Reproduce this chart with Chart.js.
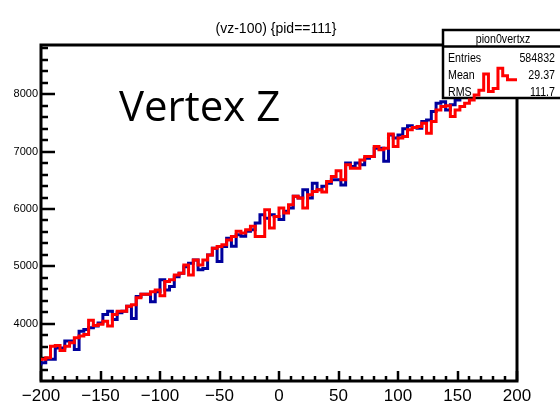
<!DOCTYPE html>
<html>
<head>
<meta charset="utf-8">
<script src="https://cdn.jsdelivr.net/npm/chart.js@4.4.0/dist/chart.umd.min.js"></script>
<style>
  html, body { margin: 0; padding: 0; background: #fff; }
  #c { display: block; }
</style>
</head>
<body>
<canvas id="c" width="560" height="418"></canvas>
<script>
// Histogram definition: 100 bins over vz-100 in [-200, 200]
const xMin = -200;
const xMax = 200;
const nBins = 100;

// Bin contents, pion0vertxz (blue)
const pion0vertxz = [
  3275, 3320, 3380, 3380, 3580, 3580, 3700, 3700, 3550, 3870,
  3900, 3930, 3960, 4015, 4160, 4220, 4075, 4190, 4220, 4305,
  4090, 4475, 4515, 4515, 4385, 4560, 4765, 4590, 4650, 4820,
  4880, 4995, 5055, 5110, 4940, 4965, 5200, 5315, 5085, 5345,
  5490, 5350, 5550, 5525, 5610, 5640, 5755, 5900, 5840, 5900,
  5870, 5815, 5960, 6015, 6220, 6190, 6335, 6190, 6450, 6335,
  6395, 6450, 6510, 6510, 6420, 6800, 6740, 6800, 6770, 6885,
  6915, 7060, 7060, 6830, 7290, 7235, 7290, 7400, 7450, 7420,
  7405, 7525, 7550, 7700, 7840, 7870, 7725, 7815, 7900, 7990,
  8060, 8110, 8150, 8230, 8300, 8250, 8400, 8550, 8420, 8380
];

// Bin contents, overlaid selection (red)
const pion0vertxzSame = [
  3350, 3380, 3410, 3610, 3620, 3535, 3610, 3670, 3755, 3785,
  3815, 4060, 3970, 3990, 4045, 3960, 4160, 4220, 4220, 4305,
  4330, 4455, 4515, 4515, 4560, 4590, 4490, 4735, 4765, 4850,
  4880, 5025, 4850, 5110, 5025, 5110, 5200, 5315, 5345, 5375,
  5460, 5520, 5610, 5580, 5640, 5700, 5520, 5520, 5985, 5670,
  5870, 6015, 5930, 6075, 6220, 6190, 6015, 6250, 6305, 6335,
  6295, 6480, 6565, 6665, 6510, 6770, 6710, 6710, 6855, 6915,
  6915, 7090, 7030, 7060, 7305, 7090, 7235, 7265, 7380, 7420,
  7435, 7495, 7320, 7525, 7725, 7785, 7800, 7610, 7725, 7785,
  7840, 7900, 7985, 8070, 8350, 8045, 8100, 8450, 8320, 8250
];

// Axis labels
const xTicks = [-200, -150, -100, -50, 0, 50, 100, 150, 200];
const yTicks = [4000, 5000, 6000, 7000, 8000];
const yRange = [3003, 8857];

// Title and statistics box
const titleText = '(vz-100) {pid==111}';
const statName = 'pion0vertxz';
const statLabels = ['Entries', 'Mean', 'RMS'];
const statValues = ['584832', '29.37', '111.7'];

const SANS = '"Liberation Sans", Arial, Helvetica, sans-serif';

// Step outline: one point per low bin edge, plus the final upper edge
function stepPoints(values) {
  const w = (xMax - xMin) / nBins;
  const pts = values.map((v, i) => ({ x: xMin + i * w, y: v }));
  pts.push({ x: xMax, y: values[values.length - 1] });
  return pts;
}

function minusFmt(v) {
  return v < 0 ? '\u2212' + Math.abs(v) : String(v);
}

// Text squeezed horizontally, Helvetica-Narrow style
function narrowText(ctx, text, x, y, align, squeeze) {
  ctx.save();
  ctx.translate(x, y);
  ctx.scale(squeeze, 1);
  ctx.textAlign = align;
  ctx.fillText(text, 0, 0);
  ctx.restore();
}

// Frame and inward-pointing ticks, ROOT style
const frameTicks = {
  id: 'frameTicks',
  beforeDatasetsDraw(chart) {
    const { ctx, chartArea: a, scales: { x, y } } = chart;
    ctx.save();
    ctx.strokeStyle = '#000';
    ctx.lineWidth = 2.5;
    ctx.lineCap = 'butt';
    ctx.beginPath();
    for (let v = Math.ceil(y.min / 200) * 200; v <= y.max; v += 200) {
      const py = Math.round(y.getPixelForValue(v));
      const len = (v % 1000 === 0) ? 14 : 7;
      ctx.moveTo(a.left, py);
      ctx.lineTo(a.left + len, py);
    }
    for (let v = x.min; v <= x.max; v += 10) {
      const px = Math.round(x.getPixelForValue(v));
      const len = (v % 50 === 0) ? 10 : 5;
      ctx.moveTo(px, a.bottom);
      ctx.lineTo(px, a.bottom - len);
    }
    ctx.stroke();
    ctx.lineWidth = 3;
    ctx.strokeRect(a.left, a.top, a.right - a.left, a.bottom - a.top);

    // histogram title above the frame
    ctx.fillStyle = '#000';
    ctx.font = '14px ' + SANS;
    ctx.textBaseline = 'alphabetic';
    ctx.textAlign = 'center';
    ctx.fillText(titleText, 276, 33);
    ctx.restore();
  }
};

// Statistics box, painted after the first histogram and under the overlay
const statsBox = {
  id: 'statsBox',
  afterDatasetDraw(chart, args) {
    if (args.index !== 1) return;
    const ctx = chart.ctx;
    const bx = 443, by = 30, bw = 130, bh = 68, hh = 16.5;
    ctx.save();
    ctx.fillStyle = '#fff';
    ctx.fillRect(bx, by, bw, bh);
    ctx.strokeStyle = '#000';
    ctx.lineWidth = 2.5;
    ctx.strokeRect(bx, by, bw, bh);
    ctx.beginPath();
    ctx.moveTo(bx, by + hh);
    ctx.lineTo(bx + bw, by + hh);
    ctx.stroke();
    ctx.fillStyle = '#000';
    ctx.font = '13px ' + SANS;
    ctx.textBaseline = 'alphabetic';
    narrowText(ctx, statName, 503, 43, 'center', 0.82);
    const rows = [62, 78.5, 96];
    statLabels.forEach((lab, i) => {
      narrowText(ctx, lab, 448, rows[i], 'left', 0.82);
      narrowText(ctx, statValues[i], 555, rows[i], 'right', 0.82);
    });
    ctx.restore();
  }
};

// Large caption inside the frame
const caption = {
  id: 'caption',
  afterDatasetsDraw(chart) {
    const ctx = chart.ctx;
    ctx.save();
    ctx.fillStyle = '#000';
    ctx.font = '42px "Open Sans", "Noto Sans", sans-serif';
    ctx.textAlign = 'left';
    ctx.textBaseline = 'alphabetic';
    ctx.fillText('Vertex Z', 119, 121);
    ctx.restore();
  }
};

new Chart(document.getElementById('c'), {
  type: 'line',
  data: {
    datasets: [
      {
        label: 'pid==111 (same)',
        data: stepPoints(pion0vertxzSame),
        stepped: 'after',
        borderColor: '#ff0000',
        borderWidth: 3,
        pointRadius: 0,
        fill: false,
        borderCapStyle: 'butt',
        borderJoinStyle: 'miter'
      },
      {
        label: 'pion0vertxz',
        data: stepPoints(pion0vertxz),
        stepped: 'after',
        borderColor: '#00009c',
        borderWidth: 3,
        pointRadius: 0,
        fill: false,
        borderCapStyle: 'butt',
        borderJoinStyle: 'miter'
      }
    ]
  },
  options: {
    responsive: false,
    animation: false,
    events: [],
    layout: { padding: { left: 0, right: 43, top: 45, bottom: 0 } },
    plugins: {
      legend: { display: false },
      tooltip: { enabled: false },
      title: { display: false }
    },
    scales: {
      x: {
        type: 'linear',
        min: xMin,
        max: xMax,
        grid: { display: false, drawTicks: false },
        border: { display: false },
        afterBuildTicks: s => { s.ticks = xTicks.map(v => ({ value: v })); },
        afterFit: s => { s.height = 37; },
        ticks: {
          autoSkip: false,
          maxRotation: 0,
          padding: 7,
          color: '#000',
          font: { family: SANS, size: 17, lineHeight: 1 },
          callback: v => minusFmt(v)
        }
      },
      y: {
        type: 'linear',
        min: yRange[0],
        max: yRange[1],
        grid: { display: false, drawTicks: false },
        border: { display: false },
        afterBuildTicks: s => { s.ticks = yTicks.map(v => ({ value: v })); },
        afterFit: s => { s.width = 41; },
        ticks: {
          autoSkip: false,
          padding: 3,
          color: '#000',
          font: { family: SANS, size: 11 },
          callback: v => String(v)
        }
      }
    }
  },
  plugins: [frameTicks, statsBox, caption]
});
</script>
</body>
</html>
